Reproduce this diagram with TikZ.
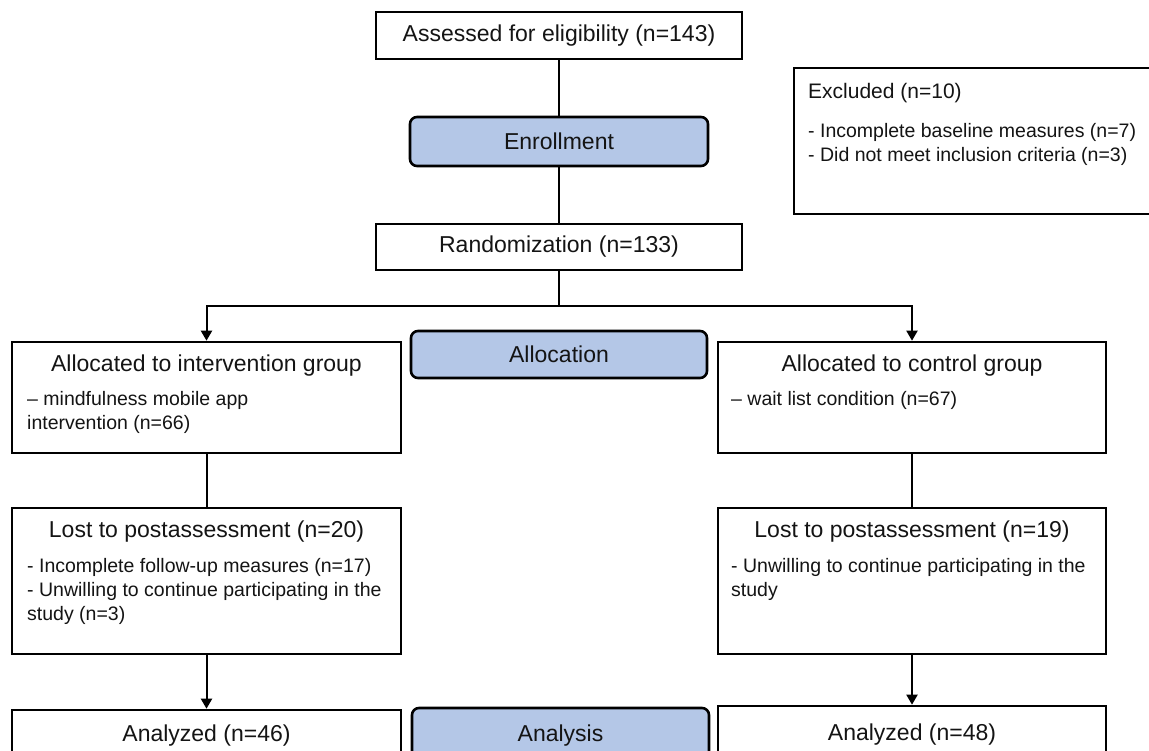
\documentclass[tikz,border=0pt]{standalone}
\usepackage{fontspec}
\setmainfont{Liberation Sans}
\usetikzlibrary{arrows.meta}
\definecolor{phaseblue}{HTML}{B4C7E7}
\definecolor{inkc}{HTML}{141414}
\newcommand\hdfont{\fontsize{23}{27}\selectfont}
\newcommand\exfont{\fontsize{21}{25}\selectfont}
\newcommand\blfont{\fontsize{19.5}{23.5}\selectfont}
\begin{document}
\begin{tikzpicture}[x=1pt,y=-1pt,
  box/.style={draw=black, line width=2.6pt, fill=white, rectangle, inner sep=0pt, font=\hdfont, text=inkc},
  phase/.style={draw=black, line width=2.6pt, fill=phaseblue, rectangle, rounded corners=7pt, inner sep=0pt, font=\hdfont, text=inkc},
  conn/.style={draw=black, line width=2pt},
  arr/.style={conn, -{Triangle[width=11pt,length=10pt]}},
  bul/.style={anchor=base west, inner sep=0pt, font=\blfont, text=inkc},
  head/.style={anchor=base, inner sep=0pt, font=\hdfont, text=inkc},
  colw/.style={minimum width=389pt},
]
\useasboundingbox (0,0) rectangle (1149,751);
\clip (0,0) rectangle (1149,751);

% top column
\node[box, minimum width=366pt, minimum height=47pt] (assess) at (559,35.5) {Assessed for eligibility (n=143)};
\node[phase, minimum width=298pt, minimum height=49pt] (enroll) at (559,141.5) {Enrollment};
\node[box, minimum width=366pt, minimum height=46pt] (random) at (559,247) {Randomization (n=133)};

% excluded
\node[box, minimum width=371pt, minimum height=146pt] (excl) at (979.5,141) {};
\node[anchor=base west, inner sep=0pt, font=\exfont, text=inkc] (exclh) at (808,99) {Excluded (n=10)};
\node[bul] (excl1) at (808,138) {- Incomplete baseline measures (n=7)};
\node[bul] (excl2) at (808,162) {- Did not meet inclusion criteria (n=3)};

% allocation row
\node[box, colw, minimum height=111pt] (interv) at (206.5,397.5) {};
\node[head] (intervh) at (206.5,371) {Allocated to intervention group};
\node[bul] (interv1) at (27,405.5) {– mindfulness mobile app};
\node[bul] (interv2) at (27,429) {intervention (n=66)};

\node[phase, minimum width=296pt, minimum height=47pt] (alloc) at (559,354.5) {Allocation};

\node[box, minimum width=388pt, minimum height=111pt] (control) at (912,397.5) {};
\node[head] (controlh) at (912,371) {Allocated to control group};
\node[bul] (control1) at (731,406) {– wait list condition (n=67)};

% lost row
\node[box, colw, minimum height=146pt] (lostL) at (206.5,581) {};
\node[head] (lostLh) at (206.5,537) {Lost to postassessment (n=20)};
\node[bul] (lostL1) at (27,572) {- Incomplete follow-up measures (n=17)};
\node[bul] (lostL2) at (27,596) {- Unwilling to continue participating in the};
\node[bul] (lostL3) at (27,620) {study (n=3)};

\node[box, minimum width=388pt, minimum height=146pt] (lostR) at (912,581) {};
\node[head] (lostRh) at (912,537) {Lost to postassessment (n=19)};
\node[bul] (lostR1) at (731,572) {- Unwilling to continue participating in the};
\node[bul] (lostR2) at (731,596) {study};

% analysis row (cut off at the bottom)
\node[box, colw, minimum height=80pt] (anaL) at (206.5,750) {};
\node[head] (anaLh) at (206.5,741) {Analyzed (n=46)};
\node[phase, minimum width=297pt, minimum height=84pt] (analysis) at (560.5,750) {};
\node[head] (analysish) at (560.5,741) {Analysis};
\node[box, minimum width=388pt, minimum height=88pt] (anaR) at (912,750) {};
\node[head] (anaRh) at (912,740) {Analyzed (n=48)};

% connectors
\draw[conn] (assess.south) -- (enroll.north);
\draw[conn] (enroll.south) -- (random.north);
\coordinate (split) at (559,306);
\draw[conn] (random.south) -- (split);
\draw[arr] (split) -| (interv.north);
\draw[arr] (split) -| (control.north);
\draw[conn] (interv.south) -- (lostL.north);
\draw[conn] (control.south) -- (lostR.north);
\draw[arr] (lostL.south) -- (anaL.north);
\draw[arr] (lostR.south) -- (anaR.north);
\end{tikzpicture}
\end{document}
